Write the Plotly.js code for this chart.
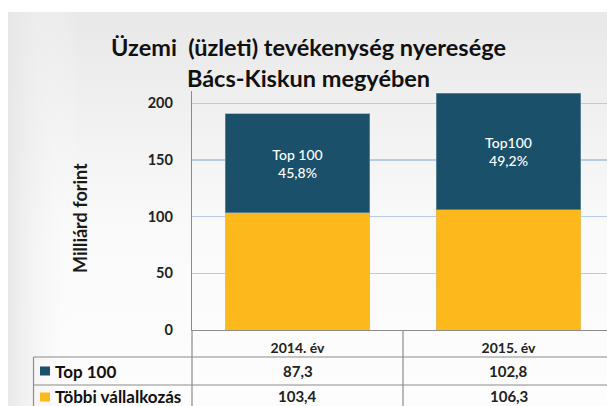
<!DOCTYPE html>
<html>
<head>
<meta charset="utf-8">
<script src="https://cdn.plot.ly/plotly-3.0.1.min.js"></script>
<style>html,body{margin:0;padding:0;background:#fff;}#chart{width:607px;height:406px;}</style>
</head>
<body>
<div id="chart"></div>
<script>
// ---- data ----
const categories = ['2014. év', '2015. év'];
const top100 = [87.3, 102.8];
const tobbi = [103.4, 106.3];
const shareLabels = ['Top 100<br>45,8%', 'Top100<br>49,2%'];
const seriesNames = ['Top 100', 'Többi vállalkozás'];
const seriesColors = ['#1a506a', '#fdb91c'];
const yTicks = [0, 50, 100, 150, 200];

const W = 607, H = 406;
const L = 192, R = 0, T = 91, B = 76;
const pw = W - L - R, ph = H - T - B;
const px = v => (v - L) / pw;          // pixel -> paper x
const py = v => (H - B - v) / ph;      // pixel -> paper y
const fmt = v => v.toFixed(1).replace('.', ',');
const FONT = 'Lato, "Open Sans", sans-serif';
const rowY = [371, 396];

const traces = [
  {type:'bar', name: seriesNames[1], x: categories, y: tobbi,
   marker:{color: seriesColors[1], line:{color:'#d9c48a', width:0.5}},
   hoverinfo:'skip', textposition:'none'},
  {type:'bar', name: seriesNames[0], x: categories, y: top100,
   marker:{color: seriesColors[0], line:{color:'#7f9db0', width:0.6}},
   text: shareLabels, textposition:'inside', insidetextanchor:'middle',
   textangle:0, constraintext:'none',
   textfont:{family:FONT, size:14, color:'#ffffff', weight:500}, hoverinfo:'skip'}
];

const grad = 'data:image/svg+xml;base64,' + btoa(
  '<svg xmlns="http://www.w3.org/2000/svg" width="100" height="100" preserveAspectRatio="none">' +
  '<defs><linearGradient id="g" x1="0" y1="0" x2="0" y2="1">' +
  '<stop offset="0" stop-color="#e8e8e8"/><stop offset="0.55" stop-color="#fafafa"/>' +
  '<stop offset="1" stop-color="#fdfdfd"/></linearGradient>' +
  '<linearGradient id="h" x1="0" y1="0" x2="1" y2="0">' +
  '<stop offset="0" stop-color="#e6e6e6" stop-opacity="0.9"/><stop offset="0.12" stop-color="#ffffff" stop-opacity="0"/>' +
  '</linearGradient></defs>' +
  '<rect width="100" height="100" fill="url(#g)"/><rect width="100" height="100" fill="url(#h)"/></svg>');

const lineCol = '#8c8c8c';
const shapes = [
  {type:'line', xref:'paper', yref:'paper', x0:px(33.5), x1:px(W+5), y0:py(357), y1:py(357), line:{color:lineCol, width:1.2}},
  {type:'line', xref:'paper', yref:'paper', x0:px(33.5), x1:px(W+5), y0:py(385), y1:py(385), line:{color:lineCol, width:1.2}},
  {type:'line', xref:'paper', yref:'paper', x0:px(33.5), x1:px(33.5), y0:py(357), y1:py(H+5), line:{color:lineCol, width:1.2}},
  {type:'line', xref:'paper', yref:'paper', x0:0, x1:0, y0:0, y1:py(H+5), line:{color:lineCol, width:1.2}},
  {type:'line', xref:'x', yref:'paper', x0:0.5, x1:0.5, y0:0, y1:py(H+5), line:{color:lineCol, width:1.2}}
];
seriesColors.forEach((c, i) => {
  const yc = rowY[i] + (i === 1 ? 1 : 0);
  shapes.push({type:'rect', xref:'paper', yref:'paper', x0:px(40), x1:px(50), y0:py(yc+4.5), y1:py(yc-4.5),
    fillcolor:c, line:{width:0}});
});

const annotations = [
  {text:'<b>Milliárd forint</b>', textangle:-90, xref:'paper', yref:'paper', x:px(80), y:py(218),
   showarrow:false, font:{family:FONT, size:18, color:'#1a1a1a'}, xanchor:'center', yanchor:'middle'}
];
seriesNames.forEach((n, i) => {
  const yc = rowY[i];
  annotations.push({text:'<b>' + n + '</b>', xref:'paper', yref:'paper', x:px(53), y:py(yc), xanchor:'left', yanchor:'middle',
    showarrow:false, font:{family:FONT, size:17, color:'#111'}});
  const vals = i === 0 ? top100 : tobbi;
  categories.forEach((c, j) => {
    annotations.push({text:'<b>' + fmt(vals[j]) + '</b>', xref:'x', yref:'paper', x:c, y:py(yc), xanchor:'center', yanchor:'middle',
      showarrow:false, font:{family:FONT, size:15, color:'#222'}});
  });
});

const layout = {
  width: W, height: H,
  margin:{l:L, r:R, t:T, b:B, pad:0},
  paper_bgcolor:'#ffffff', plot_bgcolor:'rgba(0,0,0,0)',
  barmode:'stack', bargap:0.313,
  showlegend:false,
  font:{family:FONT},
  title:{text:'<b>Üzemi  (üzleti) tevékenység nyeresége<br>Bács-Kiskun megyében</b>',
    x:308.5/W, xanchor:'center', xref:'container', y:1-56/H, yanchor:'top', yref:'container',
    font:{family:FONT, size:23.5, color:'#111'}},
  xaxis:{type:'category', range:[-0.5, -0.5 + pw/211], showgrid:false, zeroline:false,
    showline:true, linecolor:lineCol, linewidth:1.2, ticks:'', ticklabelstandoff:5,
    tickfont:{family:FONT, size:14, color:'#222', weight:'bold'}, fixedrange:true},
  yaxis:{range:[0, ph/1.1333], tickvals:yTicks, ticktext:yTicks.map(String),
    showgrid:true, gridcolor:'#b7cbe2', gridwidth:1.2, zeroline:false,
    showline:true, linecolor:'#8a8a8a', linewidth:1.2, ticks:'', ticklabelstandoff:15,
    tickfont:{family:FONT, size:14.5, color:'#222', weight:'bold'}, fixedrange:true},
  images:[{source:grad, xref:'paper', yref:'paper', x:px(8), y:py(12), sizex:(W-8)/pw, sizey:(H-12)/ph,
    sizing:'stretch', layer:'below', xanchor:'left', yanchor:'top'}],
  shapes: shapes,
  annotations: annotations
};

Plotly.newPlot('chart', traces, layout, {displayModeBar:false, staticPlot:true});
</script>
</body>
</html>
